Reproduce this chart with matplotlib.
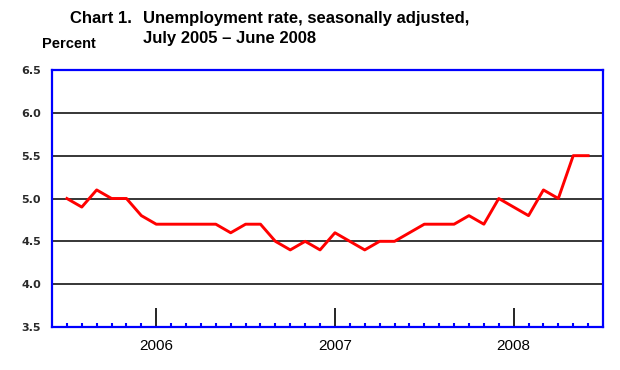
import matplotlib.pyplot as plt
import numpy as np
import pandas as pd

plt.rcParams['font.family'] = ['Liberation Sans', 'DejaVu Sans']

# monthly unemployment rate, July 2005 - June 2008
months = pd.period_range('2005-07', '2008-06', freq='M')
rate = [5.0, 4.9, 5.1, 5.0, 5.0, 4.8,
        4.7, 4.7, 4.7, 4.7, 4.7, 4.6, 4.7, 4.7, 4.5, 4.4, 4.5, 4.4,
        4.6, 4.5, 4.4, 4.5, 4.5, 4.6, 4.7, 4.7, 4.7, 4.8, 4.7, 5.0,
        4.9, 4.8, 5.1, 5.0, 5.5, 5.5]
y_ticks = [3.5, 4.0, 4.5, 5.0, 5.5, 6.0, 6.5]

x = np.arange(len(months))
jan = [i for i, m in enumerate(months) if m.month == 1]
year_labels = [str(months[i].year) for i in jan]

fig = plt.figure(figsize=(6.2, 3.7), dpi=100)
ax = fig.add_axes([52 / 620, 43 / 370, 551 / 620, 257 / 370])

for v in y_ticks[1:-1]:
    ax.axhline(v, color='black', lw=1.1, zorder=1)
ax.plot(x, rate, color='#ff0000', lw=2.1, zorder=3)

ax.set_xlim(-1, len(months))
ax.set_ylim(3.5, 6.5)
ax.set_yticks(y_ticks)
ax.set_yticklabels(['%.1f' % v for v in y_ticks], family='DejaVu Sans',
                   fontweight='bold')
ax.set_xticks(jan)
ax.set_xticklabels(year_labels)
ax.set_xticks(x, minor=True)

ax.tick_params(axis='y', length=0, pad=8, labelsize=8, labelcolor='#2a2a2a')
ax.tick_params(axis='x', which='major', direction='in', length=14, width=1.2,
               color='black', pad=9, labelsize=11)
ax.tick_params(axis='x', which='minor', direction='in', length=3, width=1.5,
               color='#0000ff')

for s in ax.spines.values():
    s.set_color('#0000ff')
    s.set_linewidth(1.6)

fig.text(70 / 620, 1 - 22.7 / 370, 'Chart 1.', fontsize=12, fontweight='bold',
         va='baseline')
fig.text(143 / 620, 1 - 22.7 / 370, 'Unemployment rate, seasonally adjusted,',
         fontsize=12, fontweight='bold', va='baseline')
fig.text(143 / 620, 1 - 42.7 / 370, 'July 2005 \u2013 June 2008',
         fontsize=12, fontweight='bold', va='baseline')
fig.text(42 / 620, 1 - 47.7 / 370, 'Percent', fontsize=10.5, fontweight='bold',
         va='baseline')

fig.savefig('out.png', dpi=100)
